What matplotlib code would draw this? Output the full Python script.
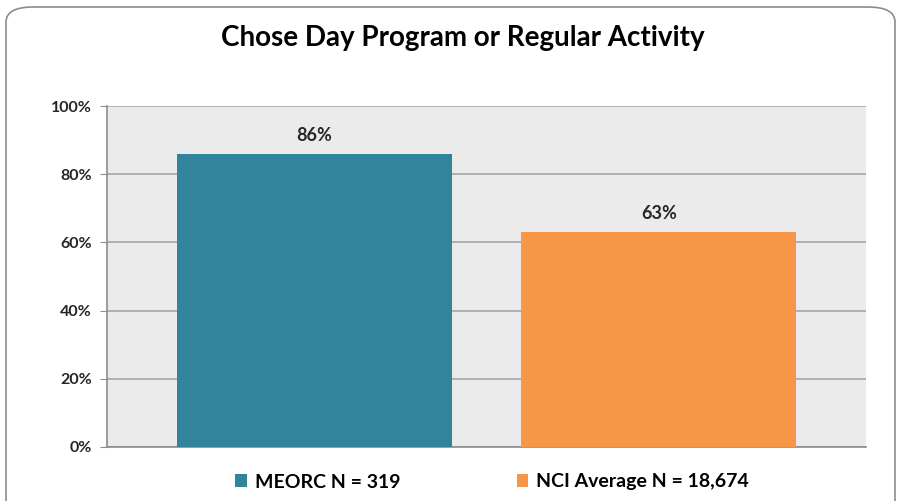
import matplotlib.pyplot as plt
from matplotlib.patches import FancyBboxPatch, Patch

plt.rcParams['font.family'] = ['Lato', 'DejaVu Sans']

series = ["MEORC N = 319", "NCI Average N = 18,674"]
values = [86, 63]
colors = ["#31849B", "#F79646"]
yticks = [0, 20, 40, 60, 80, 100]

fig = plt.figure(figsize=(9.01, 5.01), dpi=100)
fig.patch.set_facecolor("white")

# rounded chart border
border = FancyBboxPatch((6 / 901, -0.05), 889 / 901, 0.986 + 0.05,
                        boxstyle="round,pad=0,rounding_size=0.03",
                        transform=fig.transFigure, facecolor="white",
                        edgecolor="#8C8C8C", linewidth=1.2, zorder=-10)
fig.patches.append(border)

ax = fig.add_axes([107 / 901, 1 - 447 / 501, 759 / 901, 341 / 501])
ax.set_facecolor("#EBEBEB")

x = list(range(len(values)))
bars = ax.bar(x, values, width=0.797, color=colors, zorder=3)
for xi, v in zip(x, values):
    ax.text(xi, v + 3, f"{v}%", ha="center", va="bottom",
            fontsize=13, fontweight="bold", color="#262626")

ax.set_xlim(-0.6014, 1.6014)
ax.set_ylim(0, 100)
ax.set_yticks(yticks)
ax.set_yticklabels([f"{t}%" for t in yticks], fontsize=11.5,
                   fontweight="bold", color="#262626")
ax.set_xticks([])
ax.yaxis.grid(True, color="#A6A6A6", linewidth=1.2, zorder=1)
ax.tick_params(axis="y", length=5, color="#8C8C8C", pad=6)
for side in ["top", "right"]:
    ax.spines[side].set_visible(False)
ax.spines["left"].set_color("#8C8C8C")
ax.spines["bottom"].set_color("#8C8C8C")
ax.spines["left"].set_linewidth(1.2)
ax.spines["bottom"].set_linewidth(1.2)

fig.text(463 / 901, 1 - 38 / 501, "Chose Day Program or Regular Activity",
         ha="center", va="center", fontsize=20, fontweight="bold",
         color="black")

handles = [Patch(facecolor=c, edgecolor="none") for c in colors]
fig.legend(handles, series, loc="center", bbox_to_anchor=(492 / 901, 1 - 482 / 501),
           ncol=2, frameon=False, columnspacing=6, handlelength=0.6,
           handleheight=0.6, handletextpad=0.4,
           prop={"size": 14, "weight": "bold"})

fig.savefig("out.png", dpi=100)
